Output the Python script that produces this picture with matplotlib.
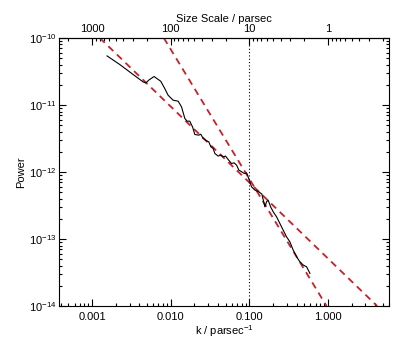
import matplotlib
matplotlib.use('Agg')
import matplotlib.pyplot as plt
from matplotlib.ticker import FixedLocator, FixedFormatter, LogLocator, NullFormatter

plt.rcParams['font.family'] = ['Liberation Sans', 'DejaVu Sans']
plt.rcParams['mathtext.fontset'] = 'custom'
plt.rcParams['mathtext.rm'] = 'Liberation Sans'
plt.rcParams['mathtext.it'] = 'Liberation Sans'
plt.rcParams['font.size'] = 8

# power spectrum
k_vals = [1.55e-3, 2.25e-3, 3.33e-3, 4.46e-3, 4.82e-3, 5.31e-3, 6.15e-3, 7.48e-3,
          8.41e-3, 9.27e-3, 1.074e-2, 1.245e-2, 1.374e-2, 1.514e-2, 1.618e-2,
          1.750e-2, 1.897e-2, 2.028e-2, 2.280e-2, 2.415e-2, 2.588e-2, 2.858e-2,
          3.055e-2, 3.243e-2, 3.467e-2, 3.648e-2, 4.018e-2, 4.345e-2, 4.645e-2,
          4.989e-2, 5.383e-2, 5.943e-2, 6.412e-2, 6.887e-2, 7.362e-2, 7.980e-2,
          8.610e-2, 9.226e-2, 9.661e-2, 0.1016, 0.1069, 0.1178, 0.1297, 0.1445,
          0.1578, 0.1660, 0.1738, 0.1866, 0.2014, 0.2223, 0.2449, 0.2698, 0.2979,
          0.3281, 0.3614, 0.3999, 0.4395, 0.4853, 0.5358, 0.5902]
power = [5.40e-11, 4.02e-11, 2.85e-11, 2.21e-11, 2.13e-11, 2.37e-11, 2.66e-11, 2.26e-11,
         1.76e-11, 1.40e-11, 1.18e-11, 1.14e-11, 9.38e-12, 6.30e-12, 5.74e-12,
         5.74e-12, 4.72e-12, 3.63e-12, 3.55e-12, 3.67e-12, 3.17e-12, 2.92e-12,
         2.82e-12, 2.38e-12, 2.25e-12, 1.89e-12, 1.73e-12, 1.79e-12, 1.69e-12,
         1.73e-12, 1.54e-12, 1.34e-12, 1.37e-12, 1.27e-12, 1.07e-12, 1.01e-12,
         9.53e-13, 9.73e-13, 8.47e-13, 7.14e-13, 6.01e-13, 5.37e-13, 5.15e-13, 4.69e-13,
         3.03e-13, 3.60e-13, 3.81e-13, 3.03e-13, 2.55e-13, 2.15e-13, 1.71e-13, 1.36e-13,
         1.08e-13, 9.12e-14, 6.86e-14, 5.44e-14, 4.59e-14, 4.10e-14, 3.86e-14, 3.08e-14]

# the two power-law fits (end points)
fit1_k = [1.254e-3, 4.24]
fit1_p = [1e-10, 1e-14]
fit2_k = [8.18e-3, 0.962]
fit2_p = [1e-10, 1e-14]

k_break = 0.1

k_ticks = [0.001, 0.01, 0.1, 1.0]
k_labels = ['0.001', '0.010', '0.100', '1.000']
size_ticks = [1000, 100, 10, 1]
size_labels = ['1000', '100', '10', '1']

fig = plt.figure(figsize=(4.07, 3.39), dpi=100)
ax = fig.add_axes([0.145, 0.097, 0.811, 0.791])

red = '#c8202a'
ax.plot(fit1_k, fit1_p, color=red, lw=1.3, dashes=(3.8, 2.8))
ax.plot(fit2_k, fit2_p, color=red, lw=1.3, dashes=(3.8, 2.8))
ax.plot(k_vals, power, color='black', lw=0.8)
ax.axvline(k_break, color='black', lw=0.8, linestyle=(0, (1, 2)))

ax.set_xscale('log')
ax.set_yscale('log')
ax.set_xlim(3.8e-4, 6.0)
ax.set_ylim(1e-14, 1e-10)

ax.xaxis.set_major_locator(FixedLocator(k_ticks))
ax.xaxis.set_major_formatter(FixedFormatter(k_labels))
ax.xaxis.set_minor_locator(LogLocator(subs=range(2, 10)))
ax.xaxis.set_minor_formatter(NullFormatter())
ax.yaxis.set_minor_locator(LogLocator(subs=range(2, 10)))
ax.yaxis.set_minor_formatter(NullFormatter())

ax.tick_params(which='both', direction='in', top=False, right=True, width=0.8)
ax.tick_params(which='major', length=5, pad=4)
ax.tick_params(axis='y', which='major', pad=2)
ax.tick_params(which='minor', length=2.5)
for s in ax.spines.values():
    s.set_linewidth(0.8)

ax.set_xlabel('k / parsec$^{-1}$', labelpad=1)
ax.set_ylabel('Power', labelpad=2)

top = ax.secondary_xaxis('top', functions=(lambda k: 1.0 / k, lambda s: 1.0 / s))
top.xaxis.set_major_locator(FixedLocator(size_ticks))
top.xaxis.set_major_formatter(FixedFormatter(size_labels))
top.xaxis.set_minor_locator(LogLocator(subs=range(2, 10)))
top.xaxis.set_minor_formatter(NullFormatter())
top.tick_params(which='both', direction='in', width=0.8)
top.tick_params(which='major', length=5, pad=3)
top.tick_params(which='minor', length=2.5)
top.set_xlabel('Size Scale / parsec', labelpad=1)

fig.savefig('out.png', dpi=100)
